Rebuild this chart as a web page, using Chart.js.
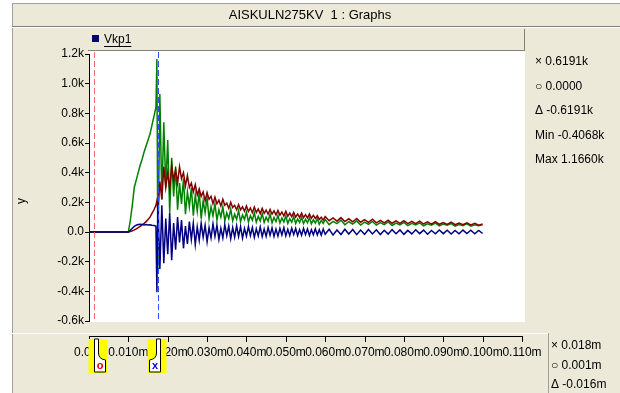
<!DOCTYPE html>
<html>
<head>
<meta charset="utf-8">
<script src="https://cdn.jsdelivr.net/npm/chart.js@4.4.0/dist/chart.umd.min.js"></script>
<style>
  body { margin: 0; background: #fff; }
  canvas { display: block; }
</style>
</head>
<body>
<canvas id="myChart" width="620" height="393"></canvas>
<script>
// sample times (ms) shared by the three traces
const timeMs = [
  0, 10, 10.5, 11, 11.5, 12, 12.5, 13, 13.5, 14, 14.5, 15, 15.5, 16, 16.5, 17, 17.25, 17.5,
  18, 18.5, 19, 19.5, 20, 20.5, 21, 21.5, 22, 22.5, 23, 23.5, 24, 24.5, 25, 25.5, 26, 26.5, 27, 27.5,
  28, 28.5, 29, 29.5, 30, 30.5, 31, 31.5, 32, 32.5, 33, 33.5, 34, 34.5, 35, 35.5, 36, 36.5, 37, 37.5,
  38, 38.5, 39, 39.5, 40, 40.5, 41, 41.5, 42, 42.5, 43, 43.5, 44, 44.5, 45, 45.5, 46, 46.5, 47, 47.5,
  48, 48.5, 49, 49.5, 50, 50.5, 51, 51.5, 52, 52.5, 53, 53.5, 54, 54.5, 55, 55.5, 56, 56.5, 57, 57.5,
  58, 58.5, 59, 59.5, 60, 61, 62, 63, 64, 65, 66, 67, 68, 69, 70, 71, 72, 73, 74, 75,
  76, 77, 78, 79, 80, 81, 82, 83, 84, 85, 86, 87, 88, 89, 90, 91, 92, 93, 94, 95,
  96, 97, 98, 99, 100
];

// values in k
const greenValues = [
  0, 0, 0.08, 0.18, 0.30, 0.35, 0.40, 0.45, 0.49, 0.54, 0.58, 0.62, 0.66, 0.72, 0.78, 0.84, 1.166, -0.25,
  0.93, 0.22, 0.74, 0.30, 0.62, 0.13, 0.50, 0.24, 0.44, 0.15, 0.33, 0.19, 0.36, 0.12, 0.27, 0.17, 0.30, 0.11, 0.25, 0.14,
  0.27, 0.09, 0.21, 0.13, 0.23, 0.09, 0.17, 0.11, 0.19, 0.08, 0.15, 0.10, 0.17, 0.075, 0.13, 0.09, 0.155, 0.075, 0.12, 0.085,
  0.145, 0.07, 0.115, 0.085, 0.135, 0.068, 0.11, 0.08, 0.13, 0.066, 0.105, 0.075, 0.125, 0.065, 0.1, 0.072, 0.12, 0.062, 0.098, 0.07,
  0.112, 0.06, 0.095, 0.068, 0.108, 0.058, 0.09, 0.066, 0.104, 0.057, 0.088, 0.064, 0.1, 0.056, 0.086, 0.062, 0.096, 0.055, 0.084, 0.06,
  0.09, 0.052, 0.078, 0.058, 0.085, 0.05, 0.072, 0.056, 0.08, 0.049, 0.069, 0.054, 0.075, 0.047, 0.066, 0.052, 0.071, 0.046, 0.063, 0.05,
  0.068, 0.044, 0.06, 0.048, 0.065, 0.043, 0.058, 0.047, 0.062, 0.042, 0.055, 0.046, 0.06, 0.041, 0.053, 0.045, 0.057, 0.04, 0.051, 0.043,
  0.055, 0.039, 0.049, 0.042, 0.048
];

const redValues = [
  0, 0, 0.003, 0.008, 0.014, 0.021, 0.029, 0.038, 0.048, 0.058, 0.07, 0.085, 0.1, 0.125, 0.15, 0.18, 0.21, 0.15,
  0.34, 0.22, 0.44, 0.30, 0.40, 0.29, 0.45, 0.35, 0.42, 0.33, 0.44, 0.36, 0.40, 0.31, 0.38, 0.30, 0.33, 0.27, 0.32, 0.25,
  0.29, 0.24, 0.27, 0.21, 0.265, 0.22, 0.24, 0.19, 0.235, 0.19, 0.215, 0.175, 0.22, 0.18, 0.195, 0.16, 0.2, 0.165, 0.18, 0.15,
  0.185, 0.15, 0.17, 0.14, 0.175, 0.138, 0.162, 0.13, 0.168, 0.132, 0.155, 0.124, 0.16, 0.126, 0.148, 0.12, 0.152, 0.12, 0.142, 0.115,
  0.145, 0.114, 0.135, 0.108, 0.14, 0.106, 0.128, 0.104, 0.132, 0.1, 0.122, 0.098, 0.127, 0.097, 0.117, 0.095, 0.122, 0.093, 0.112, 0.092,
  0.11, 0.085, 0.1, 0.08, 0.104, 0.076, 0.095, 0.073, 0.097, 0.07, 0.089, 0.069, 0.091, 0.066, 0.084, 0.065, 0.086, 0.062, 0.079, 0.061,
  0.08, 0.059, 0.075, 0.058, 0.077, 0.056, 0.071, 0.056, 0.073, 0.054, 0.068, 0.053, 0.07, 0.052, 0.064, 0.051, 0.066, 0.05, 0.061, 0.049,
  0.062, 0.048, 0.058, 0.046, 0.055
];

const blueValues = [
  0, 0, 0.012, 0.025, 0.038, 0.046, 0.05, 0.052, 0.05, 0.048, 0.05, 0.047, 0.049, 0.046, 0.044, 0.04, -0.4068, 0.2,
  -0.25, 0.18, -0.21, 0.09, -0.15, 0.13, -0.19, 0.06, -0.12, 0.10, -0.07, 0.08, -0.11, 0.04, -0.08, 0.07, -0.05, 0.06, -0.085, 0.035,
  -0.055, 0.06, -0.035, 0.045, -0.065, 0.03, -0.04, 0.055, -0.03, 0.045, -0.05, 0.025, -0.04, 0.05, -0.025, 0.04, -0.045, 0.03, -0.035, 0.042,
  -0.03, 0.036, -0.042, 0.024, -0.028, 0.038, -0.025, 0.03, -0.036, 0.022, -0.026, 0.034, -0.032, 0.02, -0.03, 0.03, -0.022, 0.028, -0.03, 0.02,
  -0.028, 0.025, -0.02, 0.03, -0.026, 0.018, -0.024, 0.026, -0.017, 0.024, -0.025, 0.016, -0.022, 0.025, -0.018, 0.02, -0.024, 0.016, -0.019, 0.022,
  -0.02, 0.016, -0.021, 0.02, -0.015, 0.018, -0.02, 0.014, -0.017, 0.019, -0.014, 0.017, -0.018, 0.013, -0.016, 0.017, -0.013, 0.015, -0.017, 0.012,
  -0.014, 0.016, -0.012, 0.014, -0.016, 0.011, -0.013, 0.015, -0.011, 0.013, -0.015, 0.01, -0.012, 0.014, -0.011, 0.012, -0.014, 0.01, -0.012, 0.013,
  -0.01, 0.012, -0.012, 0.01, -0.01
];

// axes
const xTickValues = [0, 0.01, 0.02, 0.03, 0.04, 0.05, 0.06, 0.07, 0.08, 0.09, 0.1, 0.11];
const xTickLabels = ['0.000', '0.010m', '0.020m', '0.030m', '0.040m', '0.050m', '0.060m', '0.070m', '0.080m', '0.090m', '0.100m', '0.110m'];
const yTickValues = [-0.6, -0.4, -0.2, 0, 0.2, 0.4, 0.6, 0.8, 1.0, 1.2];
const yTickLabels = ['-0.6k', '-0.4k', '-0.2k', '0.0', '0.2k', '0.4k', '0.6k', '0.8k', '1.0k', '1.2k'];

// cursors (s) and their readouts
const cursorO = 0.0013;
const cursorX = 0.0175;
const valueReadout = ['\u00d7 0.6191k', '\u25cb 0.0000', '\u0394 -0.6191k', 'Min -0.4068k', 'Max 1.1660k'];
const timeReadout = ['\u00d7 0.018m', '\u25cb 0.001m', '\u0394 -0.016m'];

const FONT = '12px "Liberation Sans", Arial, sans-serif';
const BEIGE = '#ece9d8';

function toPoints(values) {
  return timeMs.map((t, i) => ({ x: t / 1000, y: values[i] }));
}

function drawMarker(c, x, side, symbol, color) {
  const top = 339, bottom = 373;
  c.fillStyle = '#ffff00';
  c.fillRect(side > 0 ? x - 7 : x - 12, top, 19, bottom - top);
  c.beginPath();
  c.moveTo(x - side, top);
  c.lineTo(x + side * 3, top);
  c.lineTo(x + side * 3, 353);
  c.quadraticCurveTo(x + side * 3, 359, x + side * 10, 360);
  c.lineTo(x + side * 10, bottom - 1);
  c.lineTo(x - side, bottom - 1);
  c.closePath();
  c.fillStyle = '#fff';
  c.fill();
  c.strokeStyle = '#000';
  c.lineWidth = 1;
  c.stroke();
  c.fillStyle = color;
  c.font = 'bold 11px "Liberation Sans", Arial, sans-serif';
  c.textAlign = 'center';
  c.textBaseline = 'middle';
  c.fillText(symbol, x + side * 4.5, 366);
}

const panel = {
  id: 'panel',
  beforeDraw(chart) {
    const c = chart.ctx;
    const a = chart.chartArea;
    c.save();
    c.fillStyle = '#fff';
    c.fillRect(0, 0, 620, 393);
    c.fillStyle = BEIGE;
    c.fillRect(12, 3, 608, 390);
    // title bar
    c.strokeStyle = '#a0a0a0';
    c.beginPath();
    c.moveTo(12, 3.5); c.lineTo(620, 3.5);
    c.moveTo(12.5, 3); c.lineTo(12.5, 393);
    c.stroke();
    c.strokeStyle = '#808080';
    c.beginPath(); c.moveTo(12, 26.5); c.lineTo(620, 26.5); c.stroke();
    c.strokeStyle = '#fff';
    c.beginPath(); c.moveTo(12, 27.5); c.lineTo(620, 27.5); c.stroke();
    c.fillStyle = '#000';
    c.font = '13px "Liberation Sans", Arial, sans-serif';
    c.textAlign = 'center';
    c.textBaseline = 'middle';
    c.fillText('AISKULN275KV  1 : Graphs', 310, 15);
    c.font = FONT;
    // plot background
    c.fillStyle = '#fff';
    c.fillRect(a.left, 51, 525 - a.left, 322 - 51);
    // legend bar
    c.fillStyle = BEIGE;
    c.fillRect(88, 29, 437, 21);
    c.strokeStyle = '#808080';
    c.beginPath();
    c.moveTo(88, 50.5); c.lineTo(525, 50.5);
    c.moveTo(524.5, 29); c.lineTo(524.5, 51);
    c.stroke();
    c.fillStyle = '#000080';
    c.fillRect(92, 35, 7, 7);
    c.fillStyle = '#000';
    c.textAlign = 'left';
    c.fillText('Vkp1', 104, 40);
    c.fillRect(104, 46, c.measureText('Vkp1').width, 1);
    // y title
    c.save();
    c.translate(22, 201);
    c.rotate(-Math.PI / 2);
    c.textAlign = 'center';
    c.fillText('y', 0, 0);
    c.restore();
    // value readouts
    valueReadout.forEach((s, i) => c.fillText(s, 535, 62 + i * 24.5));
    // x strip
    c.strokeStyle = '#fff';
    c.beginPath(); c.moveTo(12, 333.5); c.lineTo(548, 333.5); c.stroke();
    c.strokeStyle = '#a0a0a0';
    c.beginPath(); c.moveTo(548.5, 333); c.lineTo(548.5, 393); c.stroke();
    timeReadout.forEach((s, i) => c.fillText(s, 551, 346 + i * 19.5));
    c.restore();
  },
  afterDraw(chart) {
    const c = chart.ctx;
    const xs = chart.scales.x;
    c.save();
    // cursor lines
    c.lineWidth = 1;
    c.setLineDash([6, 3]);
    c.strokeStyle = '#f07070';
    let px = Math.round(xs.getPixelForValue(cursorO)) + 0.5;
    c.beginPath(); c.moveTo(px, 52); c.lineTo(px, 322); c.stroke();
    c.strokeStyle = '#3050ff';
    px = Math.round(xs.getPixelForValue(cursorX)) + 0.5;
    c.beginPath(); c.moveTo(px, 52); c.lineTo(px, 322); c.stroke();
    c.setLineDash([]);
    // x axis line with ticks
    c.strokeStyle = '#000';
    c.beginPath();
    c.moveTo(xs.left, 336.5); c.lineTo(xs.right, 336.5);
    xTickValues.forEach(v => {
      const tx = Math.round(xs.getPixelForValue(v)) + 0.5;
      c.moveTo(tx, 336); c.lineTo(tx, 342);
    });
    c.stroke();
    // cursor markers
    drawMarker(c, Math.round(xs.getPixelForValue(cursorO)) + 1.5, 1, 'o', '#e00000');
    drawMarker(c, Math.round(xs.getPixelForValue(cursorX)) + 1.5, -1, 'x', '#0000e0');
    c.restore();
  }
};

const ctx = document.getElementById('myChart');
new Chart(ctx, {
  type: 'line',
  data: {
    datasets: [
      { data: toPoints(blueValues), borderColor: '#000080' },
      { data: toPoints(redValues), borderColor: '#800000' },
      { data: toPoints(greenValues), borderColor: '#008000' }
    ]
  },
  options: {
    responsive: false,
    animation: false,
    layout: { padding: { top: 54, right: 98, left: 0, bottom: 0 } },
    elements: { point: { radius: 0 }, line: { borderWidth: 1.5, tension: 0 } },
    plugins: { legend: { display: false }, tooltip: { enabled: false } },
    scales: {
      x: {
        type: 'linear', min: 0, max: 0.11,
        afterBuildTicks: s => { s.ticks = xTickValues.map(v => ({ value: v })); },
        afterFit: s => { s.height = 72; },
        ticks: { autoSkip: false, maxRotation: 0, padding: 24, color: '#000',
          font: { family: '"Liberation Sans", Arial, sans-serif', size: 12 },
          callback: (v, i) => xTickLabels[i] },
        grid: { display: false, drawTicks: false },
        border: { display: false }
      },
      y: {
        min: -0.6, max: 1.2,
        afterBuildTicks: s => { s.ticks = yTickValues.map(v => ({ value: v })); },
        afterFit: s => { s.width = 89; },
        ticks: { padding: 1, color: '#000',
          font: { family: '"Liberation Sans", Arial, sans-serif', size: 12 },
          callback: (v, i) => yTickLabels[i] },
        grid: { drawOnChartArea: false, tickLength: 4, color: '#000' },
        border: { color: '#000' }
      }
    }
  },
  plugins: [panel]
});
</script>
</body>
</html>
